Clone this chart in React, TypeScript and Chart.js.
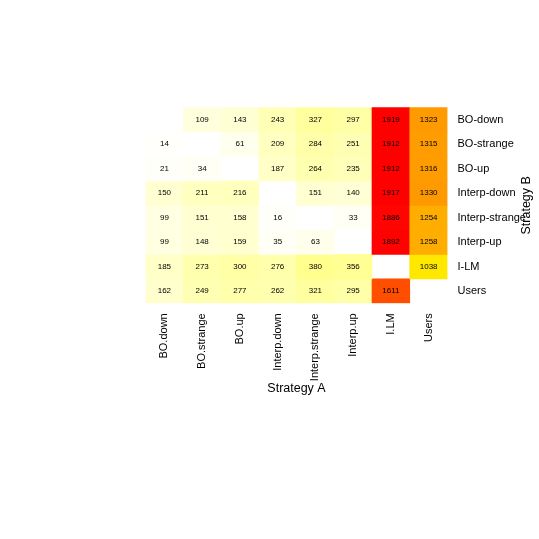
import React, { useEffect, useRef } from "react";
import { Chart, registerables } from "chart.js";

Chart.register(...registerables);

const strategyA = ["BO.down", "BO.strange", "BO.up", "Interp.down", "Interp.strange", "Interp.up", "I.LM", "Users"];
const strategyB = ["BO-down", "BO-strange", "BO-up", "Interp-down", "Interp-strange", "Interp-up", "I-LM", "Users"];

const rowBOdown = [null, 109, 143, 243, 327, 297, 1919, 1323];
const rowBOstrange = [14, null, 61, 209, 284, 251, 1912, 1315];
const rowBOup = [21, 34, null, 187, 264, 235, 1912, 1316];
const rowInterpDown = [150, 211, 216, null, 151, 140, 1917, 1330];
const rowInterpStrange = [99, 151, 158, 16, null, 33, 1886, 1254];
const rowInterpUp = [99, 148, 159, 35, 63, null, 1892, 1258];
const rowILM = [185, 273, 300, 276, 380, 356, null, 1038];
const rowUsers = [162, 249, 277, 262, 321, 295, 1611, null];

const matrix: (number | null)[][] = [
  rowBOdown,
  rowBOstrange,
  rowBOup,
  rowInterpDown,
  rowInterpStrange,
  rowInterpUp,
  rowILM,
  rowUsers,
];

const FONT = "'Liberation Sans', Arial, Helvetica, sans-serif";

function heatColor(v: number): string {
  if (v < 900) {
    const b = Math.max(0, Math.min(255, Math.round(255 - 0.3 * v)));
    return `rgb(255,255,${b})`;
  }
  const g = Math.max(0, Math.min(255, Math.round(232 - 0.269 * (v - 1038))));
  return `rgb(255,${g},0)`;
}

const cellLabels = {
  id: "cellLabels",
  afterDatasetsDraw(chart: any) {
    const ctx = chart.ctx;
    const xs = chart.scales.x;
    const ys = chart.scales.y;
    ctx.save();
    ctx.font = `8px ${FONT}`;
    ctx.fillStyle = "#000";
    ctx.textAlign = "center";
    ctx.textBaseline = "middle";
    matrix.forEach((row, r) => {
      row.forEach((v, c) => {
        if (v === null) return;
        ctx.fillText(String(v), xs.getPixelForValue(c), ys.getPixelForValue(r + 0.5));
      });
    });
    // y-axis title
    ctx.font = `12.5px ${FONT}`;
    ctx.textAlign = "center";
    ctx.textBaseline = "alphabetic";
    ctx.translate(529.5, (chart.chartArea.top + chart.chartArea.bottom) / 2);
    ctx.rotate(-Math.PI / 2);
    ctx.fillText("Strategy B", 0, 0);
    ctx.restore();
  },
};

export default function App() {
  const ref = useRef<HTMLCanvasElement>(null);
  useEffect(() => {
    if (!ref.current) return;
    const datasets = matrix.map((row, r) => ({
      label: strategyB[r],
      data: row.map((v) => (v === null ? null : [r, r + 1])),
      backgroundColor: row.map((v) => (v === null ? "rgba(0,0,0,0)" : heatColor(v))),
      borderWidth: 0,
      grouped: false,
      barPercentage: 1,
      categoryPercentage: 1,
    }));
    const chart = new Chart(ref.current, {
      type: "bar",
      data: { labels: strategyA, datasets: datasets as any },
      options: {
        responsive: false,
        animation: false,
        layout: { padding: { left: 145.5, top: 107.3, right: 11.5, bottom: 142.5 } },
        plugins: { legend: { display: false }, tooltip: { enabled: false } },
        scales: {
          x: {
            type: "category",
            position: "bottom",
            grid: { display: false, drawTicks: false },
            border: { display: false },
            ticks: {
              maxRotation: 90,
              minRotation: 90,
              padding: 10,
              autoSkip: false,
              color: "#000",
              font: { family: FONT, size: 11 },
            },
            title: {
              display: true,
              text: "Strategy A",
              color: "#000",
              padding: 0,
              font: { family: FONT, size: 12.5 },
            },
            afterFit: (s: any) => {
              s.height = 93.2;
            },
          },
          y: {
            type: "linear",
            position: "right",
            min: 0,
            max: 8,
            reverse: true,
            grid: { display: false, drawTicks: false },
            border: { display: false },
            afterBuildTicks: (s: any) => {
              s.ticks = strategyB.map((_, i) => ({ value: i + 0.5 }));
            },
            ticks: {
              padding: 10,
              autoSkip: false,
              color: "#000",
              font: { family: FONT, size: 11 },
              callback: (value: any) => strategyB[Math.floor(Number(value))],
            },
            afterFit: (s: any) => {
              s.width = 80;
            },
          },
        },
      },
      plugins: [cellLabels],
    });
    return () => chart.destroy();
  }, []);
  return (
    <canvas
      ref={ref}
      width={539}
      height={539}
      style={{ position: "absolute", left: 0, top: 0, display: "block", width: 539, height: 539 }}
    />
  );
}
